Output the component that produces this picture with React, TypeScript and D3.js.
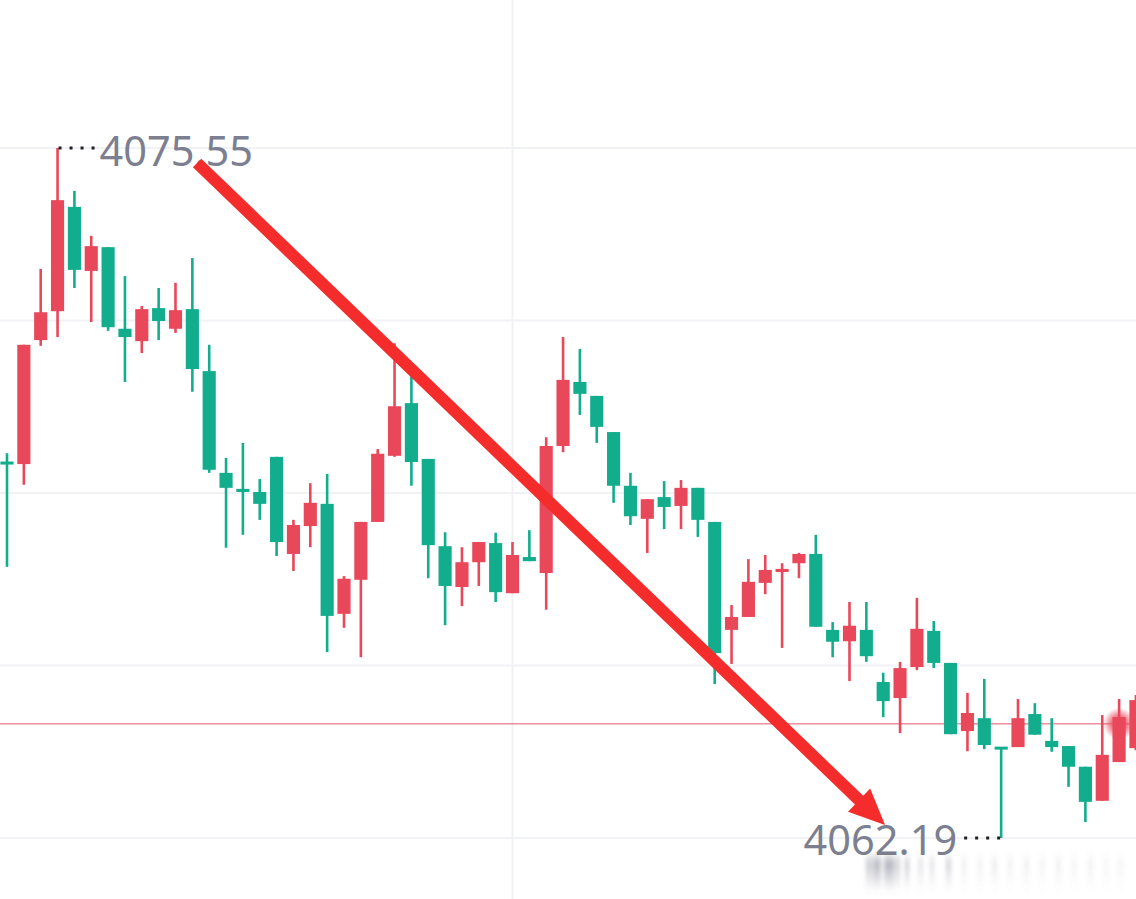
import * as d3 from "d3";

// OHLC values (one entry per candle, left to right)
const opens = [
  4069.47, 4069.43, 4071.83, 4072.39, 4074.41, 4073.17, 4073.63, 4072.05, 4071.81, 4072.45,
  4072.05, 4072.43, 4071.23, 4069.26, 4068.95, 4068.89, 4069.57, 4067.69, 4068.23, 4068.66,
  4066.53, 4067.19, 4068.31, 4069.59, 4070.61, 4069.53, 4067.84, 4067.05, 4067.53, 4067.9,
  4066.93, 4067.63, 4067.32, 4069.78, 4071.02, 4070.75, 4070.05, 4069.01, 4068.37, 4068.79,
  4068.62, 4068.97, 4068.31, 4066.22, 4066.47, 4067.13, 4067.34, 4067.51, 4067.69, 4066.22,
  4066.0, 4066.22, 4065.21, 4064.9, 4065.5, 4066.2, 4065.58, 4064.26, 4064.51, 4063.95,
  4063.95, 4064.59, 4064.07, 4063.97, 4063.57, 4062.91, 4063.66, 4063.93,
];
const highs = [
  4069.64, 4071.74, 4073.21, 4075.55, 4074.72, 4073.85, 4073.63, 4073.07, 4072.49, 4072.84,
  4072.94, 4073.42, 4071.74, 4069.55, 4069.84, 4069.14, 4069.57, 4068.35, 4069.06, 4069.24,
  4067.26, 4068.31, 4069.72, 4071.77, 4071.21, 4069.53, 4068.11, 4067.82, 4067.92, 4068.1,
  4067.92, 4068.15, 4069.95, 4071.89, 4071.66, 4070.75, 4070.05, 4069.26, 4068.75, 4069.1,
  4069.12, 4068.97, 4068.31, 4066.7, 4067.59, 4067.67, 4067.51, 4067.71, 4068.06, 4066.37,
  4066.76, 4066.76, 4065.39, 4065.6, 4066.84, 4066.39, 4065.58, 4065.0, 4065.27, 4063.95,
  4064.88, 4064.8, 4064.51, 4063.97, 4063.57, 4064.57, 4064.88, 4064.96,
];
const lows = [
  4067.44, 4069.03, 4071.72, 4071.89, 4072.84, 4072.18, 4072.01, 4071.02, 4071.58, 4071.83,
  4071.97, 4070.83, 4069.26, 4067.81, 4068.06, 4068.35, 4067.65, 4067.36, 4067.82, 4065.79,
  4066.26, 4065.69, 4068.31, 4069.57, 4069.01, 4067.22, 4066.31, 4066.68, 4067.07, 4066.76,
  4066.93, 4067.55, 4066.61, 4069.66, 4070.38, 4069.84, 4068.68, 4068.25, 4067.71, 4068.17,
  4068.17, 4068.02, 4065.17, 4065.56, 4066.47, 4066.91, 4065.87, 4067.22, 4066.28, 4065.69,
  4065.23, 4065.6, 4064.53, 4064.22, 4065.44, 4065.48, 4064.2, 4063.87, 4063.91, 4062.19,
  4063.95, 4064.19, 4063.86, 4063.18, 4062.5, 4062.91, 4063.66, 4063.89,
];
const closes = [
  4069.43, 4071.74, 4072.37, 4074.54, 4073.19, 4073.65, 4072.08, 4071.89, 4072.43, 4072.2,
  4072.41, 4071.27, 4069.32, 4068.97, 4068.89, 4068.66, 4067.92, 4068.25, 4068.68, 4066.49,
  4067.21, 4068.31, 4069.63, 4070.55, 4069.47, 4067.86, 4067.07, 4067.53, 4067.92, 4066.95,
  4067.67, 4067.55, 4069.78, 4071.06, 4070.79, 4070.15, 4069.01, 4068.42, 4068.75, 4068.6,
  4068.97, 4068.35, 4065.77, 4066.47, 4067.15, 4067.38, 4067.4, 4067.69, 4066.28, 4065.99,
  4066.3, 4065.71, 4064.84, 4065.48, 4066.24, 4065.58, 4064.2, 4064.61, 4063.99, 4063.91,
  4064.51, 4064.19, 4063.95, 4063.57, 4062.89, 4063.8, 4064.53, 4064.86,
];

const gridPrices = [4075.55, 4072.21, 4068.87, 4065.53, 4062.19];
const verticalGridAt = [30];
const lastPrice = 4064.4;
const lastPriceCandle = 66;
const highLabel = { index: 3, price: 4075.55, text: "4075.55" };
const lowLabel = { index: 59, price: 4062.19, text: "4062.19" };
const arrowFrom = { index: 11.28, price: 4075.26 };
const arrowTo = { index: 52.11, price: 4062.44 };

const W = 1136;
const H = 899;
const UP = "#e9475a";
const DOWN = "#12ad8d";

export default function App() {
  const n = opens.length;
  const step = 16.85;
  const x = d3
    .scaleBand<number>()
    .domain(d3.range(n))
    .range([7 - step / 2, 7 - step / 2 + n * step])
    .paddingInner(0.22)
    .paddingOuter(0.11);
  const bw = x.bandwidth();
  const cx = (i: number) => (x(i) as number) + bw / 2;
  // continuous version of the index axis for annotations
  const xi = d3.scaleLinear().domain([0, n - 1]).range([cx(0), cx(n - 1)]);

  const y = d3
    .scaleLinear()
    .domain([d3.min(lows) as number, d3.max(highs) as number])
    .range([838, 148]);

  // arrow geometry
  const ax0 = xi(arrowFrom.index), ay0 = y(arrowFrom.price);
  const ax1 = xi(arrowTo.index), ay1 = y(arrowTo.price);
  const ang = Math.atan2(ay1 - ay0, ax1 - ax0);
  const headLen = 36, headHalf = 16;
  const bx = ax1 - Math.cos(ang) * headLen, by = ay1 - Math.sin(ang) * headLen;
  const px = -Math.sin(ang), py = Math.cos(ang);
  const head = [
    [ax1, ay1],
    [bx + px * headHalf, by + py * headHalf],
    [bx - px * headHalf, by - py * headHalf],
  ];

  const hx = cx(highLabel.index), hy = y(highLabel.price);
  const lx = cx(lowLabel.index), ly = y(lowLabel.price);

  const smear = [
    [866, 6, 0.5], [873, 8, 0.65], [884, 10, 0.7], [895, 5, 0.45], [905, 4, 0.5],
    [918, 5, 0.25], [930, 4, 0.3], [946, 5, 0.4], [962, 4, 0.18], [978, 4, 0.16],
    [992, 5, 0.18], [1008, 4, 0.15], [1024, 5, 0.16], [1040, 4, 0.13], [1056, 5, 0.15],
    [1072, 4, 0.12], [1088, 5, 0.13], [1104, 4, 0.11], [1118, 5, 0.1],
  ];

  const font = "'Noto Sans', sans-serif";

  return (
    <div style={{ position: "fixed", left: 0, top: 0 }}>
      <svg width={W} height={H} style={{ display: "block", background: "#fff" }}>
        <defs>
          <radialGradient id="glow">
            <stop offset="0%" stopColor={UP} stopOpacity={0.95} />
            <stop offset="50%" stopColor={UP} stopOpacity={0.7} />
            <stop offset="100%" stopColor={UP} stopOpacity={0} />
          </radialGradient>
          <filter id="blur" x="-50%" y="-50%" width="200%" height="200%">
            <feGaussianBlur stdDeviation="2 5" />
          </filter>
          <linearGradient id="fade" x1="0" y1="0" x2="0" y2="1">
            <stop offset="0%" stopColor="#6d7080" stopOpacity={0.9} />
            <stop offset="100%" stopColor="#6d7080" stopOpacity={0.1} />
          </linearGradient>
        </defs>

        {gridPrices.map((p) => (
          <line key={p} x1={0} x2={W} y1={y(p)} y2={y(p)} stroke="#f1f2f5" strokeWidth={2} />
        ))}
        {verticalGridAt.map((i) => (
          <line key={i} x1={cx(i)} x2={cx(i)} y1={0} y2={H} stroke="#f1f2f5" strokeWidth={2} />
        ))}

        <line x1={0} x2={W} y1={y(lastPrice)} y2={y(lastPrice)} stroke="#e4566a" strokeWidth={1} />

        {opens.map((o, i) => {
          const c = closes[i];
          const col = c >= o ? UP : DOWN;
          const top = y(Math.max(o, c));
          const bot = y(Math.min(o, c));
          const h = Math.max(3, bot - top);
          return (
            <g key={i}>
              <line x1={cx(i)} x2={cx(i)} y1={y(highs[i])} y2={y(lows[i])} stroke={col} strokeWidth={2.6} />
              <rect x={x(i)} y={top - (h - (bot - top)) / 2} width={bw} height={h} fill={col} />
            </g>
          );
        })}

        <circle cx={cx(lastPriceCandle)} cy={y(lastPrice)} r={16} fill="url(#glow)" />

        <line x1={hx + 1} x2={hx + 38} y1={hy} y2={hy} stroke="#1e1e1e" strokeWidth={3} strokeDasharray="3 8" />
        <text x={hx + 42} y={hy + 18} fontFamily={font} fontSize={41.5} fill="#7c7f8f">
          {highLabel.text}
        </text>

        <line x1={lx - 1} x2={lx - 38} y1={ly} y2={ly} stroke="#1e1e1e" strokeWidth={3} strokeDasharray="3 8" />
        <text x={lx - 44} y={ly + 17} textAnchor="end" fontFamily={font} fontSize={41.5} fill="#7c7f8f">
          {lowLabel.text}
        </text>

        <g filter="url(#blur)">
          {smear.map(([sx, sw, op], k) => (
            <rect key={k} x={sx} y={858} width={sw} height={30} fill="url(#fade)" opacity={op} />
          ))}
        </g>

        <line x1={ax0} y1={ay0} x2={bx + Math.cos(ang) * 4} y2={by + Math.sin(ang) * 4} stroke="#f42c2c" strokeWidth={12} />
        <polygon points={head.map((p) => p.join(",")).join(" ")} fill="#f42c2c" />
      </svg>
    </div>
  );
}
